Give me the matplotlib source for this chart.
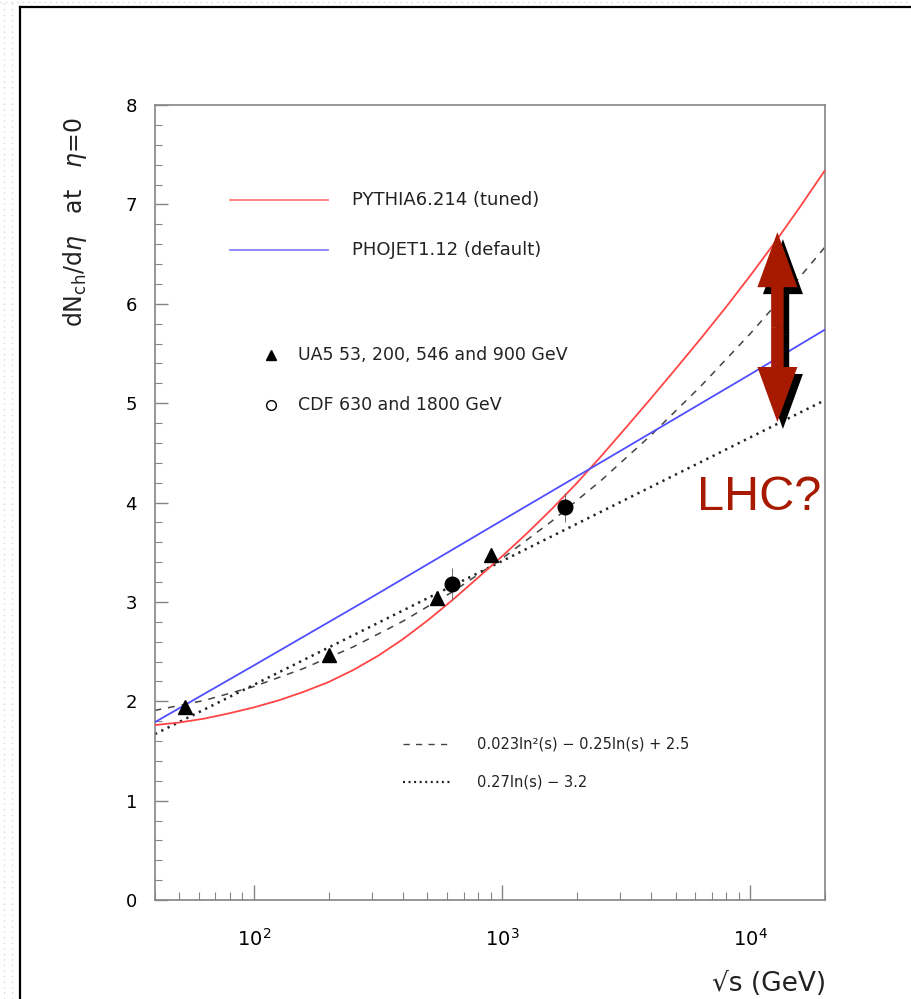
import numpy as np
import matplotlib
matplotlib.use("Agg")
import matplotlib.pyplot as plt
from matplotlib.patches import FancyArrowPatch, ArrowStyle
import matplotlib.patheffects as pe
from matplotlib.lines import Line2D
from matplotlib.ticker import FixedLocator, NullFormatter, MultipleLocator

# ---------------- data ----------------
pythia_sqrts = [39.8, 50.1, 63.1, 79.4, 100, 126, 158, 200, 251, 316, 398, 501, 631, 794,
                1000, 1259, 1585, 1995, 2512, 3162, 3981, 5012, 6310, 7943, 10000, 12589,
                15849, 19953]
pythia_dn = [1.760, 1.786, 1.825, 1.878, 1.938, 2.009, 2.093, 2.193, 2.313, 2.456, 2.623,
             2.812, 3.018, 3.236, 3.458, 3.689, 3.933, 4.192, 4.468, 4.756, 5.048, 5.346,
             5.648, 5.959, 6.283, 6.620, 6.973, 7.340]

phojet_sqrts = [40, 100, 300, 1000, 3000, 10000, 20000]
phojet_dn = [1.79, 2.36, 3.05, 3.82, 4.52, 5.29, 5.74]

fit2_sqrts = [39.8, 63.1, 100, 158, 251, 398, 631, 1000, 1585, 2512, 3981, 6310, 10000,
              15849, 20000]
fit2_dn = [1.907, 2.008, 2.148, 2.328, 2.546, 2.804, 3.101, 3.436, 3.811, 4.224, 4.677,
           5.169, 5.699, 6.269, 6.571]

fit1_sqrts = [40, 20000]
fit1_dn = [1.67, 5.03]

ua5_sqrts = [53, 200, 546, 900]
ua5_dn = [1.94, 2.47, 3.04, 3.47]

cdf_sqrts = [630, 1800]
cdf_dn = [3.18, 3.95]
cdf_err = [0.16, 0.15]

legend_labels = ["PYTHIA6.214 (tuned)", "PHOJET1.12 (default)",
                 "UA5 53, 200, 546 and 900 GeV", "CDF 630 and 1800 GeV",
                 "0.023ln\u00b2(s) \u2212 0.25ln(s) + 2.5", "0.27ln(s) \u2212 3.2"]
x_ticks = [100, 1000, 10000]
x_ticklabels = [r"$10^{2}$", r"$10^{3}$", r"$10^{4}$"]
y_ticks = [0, 1, 2, 3, 4, 5, 6, 7, 8]

lhc_sqrts = 12860
lhc_range = [4.81, 6.72]

# ---------------- styling ----------------
plt.rcParams["font.family"] = ["DejaVu Sans"]
plt.rcParams["mathtext.fontset"] = "dejavusans"

RED = "#ff4545"
BLUE = "#4f4fff"
DARKRED = "#a81a00"
AXC = "#858585"
TXT = "#222222"

fig = plt.figure(figsize=(9.11, 9.99), dpi=100)
ax = fig.add_axes([155 / 911, 99 / 999, 670 / 911, 795 / 999])

ax.set_xscale("log")
ax.set_xlim(40, 20000)
ax.set_ylim(0, 8)

ax.plot(pythia_sqrts, pythia_dn, color=RED, lw=1.3, zorder=3)
ax.plot(phojet_sqrts, phojet_dn, color=BLUE, lw=1.3, zorder=3)
ax.plot(fit2_sqrts, fit2_dn, color="#444444", lw=1.1, dashes=(4.5, 4.5), zorder=2)
ax.plot(fit1_sqrts, fit1_dn, color="#222222", lw=1.8, dashes=(0.9, 1.9), zorder=2)

ax.errorbar(cdf_sqrts, cdf_dn, yerr=cdf_err, fmt="o", color="black", ms=10.5,
            elinewidth=0.6, ecolor="#555555", capsize=0, zorder=5)
ax.plot(ua5_sqrts, ua5_dn, "^", color="black", ms=10, zorder=5, linestyle="none")

# axes cosmetics
for s in ax.spines.values():
    s.set_color(AXC)
    s.set_linewidth(1.2)
ax.xaxis.set_major_locator(FixedLocator(x_ticks))
ax.set_xticklabels(x_ticklabels)
minors = [m * 10 ** d for d in range(1, 5) for m in range(2, 10)]
ax.xaxis.set_minor_locator(FixedLocator([v for v in minors if 40 <= v <= 20000]))
ax.xaxis.set_minor_formatter(NullFormatter())
ax.yaxis.set_major_locator(FixedLocator(y_ticks))
ax.yaxis.set_minor_locator(MultipleLocator(0.2))
ax.tick_params(which="both", direction="in", color=AXC, top=False, right=False)
ax.tick_params(axis="y", which="major", length=9, width=1.0, pad=13, labelsize=13)
ax.tick_params(axis="y", which="minor", length=5, width=0.8)
ax.tick_params(axis="x", which="major", length=11, width=1.0, pad=20, labelsize=14)
ax.tick_params(axis="x", which="minor", length=6, width=0.8)

# ---------------- legend (drawn in axes fraction) ----------------
T = ax.transAxes
def fx(px):
    return (px - 155) / 670
def fy(py):
    return (900 - py) / 795

ax.plot([fx(230), fx(328)], [fy(200)] * 2, color=RED, lw=1.3, alpha=0.7, transform=T, clip_on=False)
ax.text(fx(352), fy(200), legend_labels[0], transform=T, va="center", ha="left", fontsize=13, color=TXT)
ax.plot([fx(230), fx(328)], [fy(250)] * 2, color=BLUE, lw=1.3, alpha=0.7, transform=T, clip_on=False)
ax.text(fx(352), fy(250), legend_labels[1], transform=T, va="center", ha="left", fontsize=13, color=TXT)

ax.plot([fx(271)], [fy(355)], "^", color="black", ms=7, transform=T, clip_on=False)
ax.text(fx(298), fy(355), legend_labels[2], transform=T, va="center", ha="left", fontsize=12.5, color=TXT)
ax.plot([fx(271)], [fy(405)], "o", mfc="white", mec="black", mew=1.0, ms=7, transform=T, clip_on=False)
ax.text(fx(298), fy(405), legend_labels[3], transform=T, va="center", ha="left", fontsize=12.5, color=TXT)

ax.plot([fx(403), fx(452)], [fy(744)] * 2, color="#444444", lw=1.0, dashes=(4.5, 4.5), transform=T, clip_on=False)
ax.text(fx(477), fy(744), legend_labels[4], transform=T, va="center", ha="left", fontsize=10.5, color=TXT)
ax.plot([fx(403), fx(452)], [fy(782)] * 2, color="#222222", lw=1.6, dashes=(0.9, 1.6), transform=T, clip_on=False)
ax.text(fx(477), fy(782), legend_labels[5], transform=T, va="center", ha="left", fontsize=10.5, color=TXT)

# ---------------- LHC arrow ----------------
y_mid = 0.5 * (lhc_range[0] + lhc_range[1])
style = ArrowStyle("simple", head_length=39.6, head_width=28.8, tail_width=9.0)
for yend in (lhc_range[1], lhc_range[0]):
    arr = FancyArrowPatch((lhc_sqrts, y_mid), (lhc_sqrts, yend), arrowstyle=style,
                          mutation_scale=1, facecolor=DARKRED, edgecolor="none", lw=0,
                          shrinkA=0, shrinkB=0, zorder=10, clip_on=False,
                          path_effects=[pe.SimplePatchShadow(offset=(4.0, -5), shadow_rgbFace="black", alpha=1.0),
                                        pe.Normal()])
    ax.add_patch(arr)
ax.text(fx(697), fy(510), "LHC?", transform=T, ha="left", va="baseline", fontsize=35,
        color=DARKRED, family="Liberation Sans", zorder=11)

# ---------------- axis titles ----------------
fig.text(826 / 911, 1 - 984 / 999, "\u221as (GeV)", ha="right", va="center", fontsize=19, color=TXT)
fig.text(75 / 911, 1 - 222 / 999, r"dN$_{\rm ch}$/d$\eta$   at   $\eta$=0", rotation=90,
         ha="center", va="center", fontsize=17, color=TXT)

# ---------------- outer frame and margin dots ----------------
fig.add_artist(Line2D([20 / 911, 20 / 911], [0, 1 - 7 / 999], transform=fig.transFigure, color="black", lw=1.6))
fig.add_artist(Line2D([20 / 911, 1], [1 - 7 / 999, 1 - 7 / 999], transform=fig.transFigure, color="black", lw=1.6))
for xp in (4, 12):
    fig.add_artist(Line2D([xp / 911, xp / 911], [0, 1], transform=fig.transFigure,
                          color="#d8d8d8", lw=1.0, dashes=(1, 3)))
fig.add_artist(Line2D([0, 1], [1 - 2 / 999, 1 - 2 / 999], transform=fig.transFigure,
                      color="#d8d8d8", lw=1.0, dashes=(1, 3)))

fig.savefig("out.png", dpi=100)
